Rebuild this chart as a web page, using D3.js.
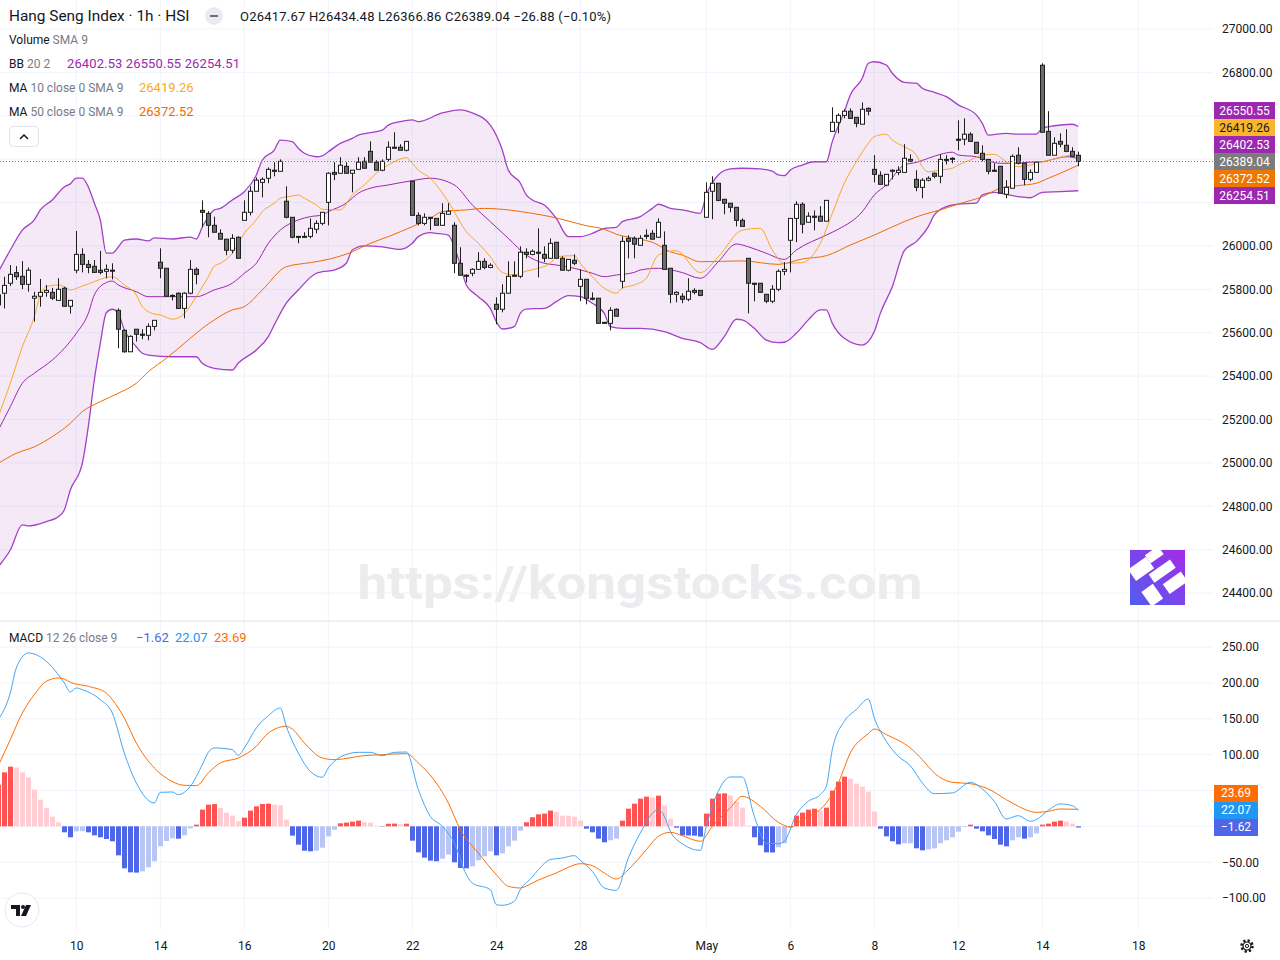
<!DOCTYPE html>
<html>
<head>
<meta charset="utf-8">
<script src="https://cdn.jsdelivr.net/npm/d3@7"></script>
<style>
  body { margin: 0; background: #fff; }
  svg { display: block; font-family: Roboto, "Noto Sans", sans-serif; }
</style>
</head>
<body>
<svg id="chart" width="1280" height="960"></svg>
<script>
// ---- data (bar index -1 is the clipped bar at the left edge) ----
const firstBar = -1;

// [open, high, low, close] per hourly bar
const ohlc = [
  [25774,25789,25705,25728],[25782,25858,25712,25818],[25828,25912,25815,25869],[25877,25907,25843,25858],
  [25860,25930,25801,25823],[25823,25901,25789,25888],[25759,25789,25651,25768],[25768,25848,25720,25786],
  [25786,25820,25766,25795],[25786,25807,25751,25759],[25749,25851,25749,25800],[25805,25812,25720,25722],
  [25722,25749,25688,25749],[25888,26069,25874,25961],[25961,25989,25878,25915],[25915,25935,25874,25901],
  [25906,25935,25878,25878],[25888,25977,25869,25878],[25883,25915,25851,25892],[25888,25920,25846,25886],
  [25703,25712,25528,25616],[25611,25616,25508,25512],[25512,25588,25512,25583],[25616,25616,25559,25593],
  [25593,25616,25570,25588],[25588,25643,25565,25629],[25629,25657,25611,25657],[25925,25989,25851,25897],
  [25897,25897,25768,25768],[25772,25777,25749,25768],[25782,25786,25712,25712],[25712,25786,25666,25782],
  [25782,25935,25777,25892],[25892,25901,25823,25869],[26164,26210,26086,26155],[26150,26160,26040,26095],
  [26095,26135,26063,26063],[26058,26077,26031,26031],[26031,26031,25957,25980],[25980,26054,25966,26035],
  [26040,26044,25943,25943],[26118,26210,26118,26155],[26155,26275,26141,26252],[26252,26316,26252,26303],
  [26293,26316,26224,26307],[26312,26362,26289,26353],[26349,26386,26321,26344],[26344,26399,26344,26390],
  [26206,26275,26127,26132],[26132,26132,26035,26040],[26044,26044,26012,26040],[26040,26063,26040,26044],
  [26044,26127,26035,26081],[26077,26118,26058,26104],[26104,26155,26095,26155],[26201,26339,26095,26335],
  [26339,26386,26303,26330],[26335,26409,26335,26372],[26367,26386,26335,26335],[26335,26349,26247,26349],
  [26353,26409,26353,26386],[26390,26409,26358,26358],[26436,26482,26386,26386],[26386,26395,26349,26349],
  [26349,26399,26344,26390],[26399,26482,26390,26455],[26455,26524,26450,26450],[26455,26469,26441,26441],
  [26441,26482,26436,26482],[26298,26298,26141,26141],[26141,26155,26095,26104],[26104,26150,26095,26132],
  [26132,26132,26073,26127],[26127,26127,26095,26095],[26095,26197,26095,26150],[26146,26197,26146,26160],
  [26095,26109,25874,25920],[25920,25994,25865,25865],[25865,25869,25832,25860],[25874,25897,25860,25892],
  [25892,25971,25892,25929],[25929,25943,25892,25901],[25901,25920,25897,25911],[25731,25763,25639,25708],
  [25708,25823,25694,25782],[25782,25929,25782,25860],[25865,25929,25860,25860],[25860,25998,25851,25971],
  [25971,25989,25943,25961],[25961,25984,25957,25975],[25971,26081,25855,25966],[25961,25998,25925,25943],
  [25943,26035,25943,26012],[26017,26017,25943,25943],[25943,25952,25888,25888],[25888,25938,25883,25938],
  [25934,25961,25911,25920],[25814,25892,25745,25846],[25846,25846,25731,25759],[25759,25786,25749,25754],
  [25759,25759,25643,25643],[25648,25648,25643,25643],[25643,25717,25611,25703],[25708,25712,25676,25676],
  [25837,26044,25805,26021],[26035,26049,25943,26021],[26035,26044,25943,26008],[26003,26049,26003,26035],
  [26049,26077,26031,26044],[26058,26073,26031,26031],[26040,26127,26040,26109],[26003,26067,25892,25892],
  [25897,25897,25736,25777],[25777,25791,25740,25786],[25768,25782,25736,25754],[25754,25851,25745,25791],
  [25795,25805,25777,25786],[25795,25795,25768,25772],[26132,26293,26132,26247],[26252,26321,26123,26289],
  [26289,26289,26206,26210],[26215,26215,26146,26197],[26197,26197,26155,26178],[26178,26178,26090,26118],
  [26118,26127,26090,26090],[25943,25943,25689,25828],[25828,25828,25745,25823],[25828,25828,25786,25786],
  [25777,25777,25736,25745],[25745,25819,25736,25800],[25800,25892,25791,25883],[25883,25925,25865,25892],
  [26026,26127,25878,26127],[26127,26206,26017,26192],[26192,26201,26058,26100],[26109,26155,26109,26137],
  [26137,26164,26072,26132],[26137,26183,26114,26114],[26114,26210,26114,26210],[26528,26639,26528,26570],
  [26570,26611,26519,26602],[26602,26630,26588,26621],[26621,26634,26588,26588],[26593,26593,26547,26565],
  [26561,26662,26561,26630],[26634,26639,26602,26621],[26353,26419,26293,26330],[26326,26344,26284,26284],
  [26280,26330,26275,26330],[26344,26353,26307,26349],[26339,26367,26326,26349],[26339,26469,26339,26404],
  [26399,26422,26386,26390],[26307,26349,26252,26270],[26270,26312,26220,26303],[26303,26321,26298,26312],
  [26335,26339,26312,26321],[26321,26422,26289,26399],[26399,26418,26376,26395],[26404,26409,26381,26399],
  [26492,26579,26441,26487],[26492,26588,26464,26515],[26515,26524,26482,26482],[26478,26478,26427,26427],
  [26427,26464,26390,26399],[26399,26399,26330,26344],[26349,26381,26344,26344],[26367,26367,26243,26243],
  [26238,26303,26220,26270],[26266,26422,26266,26413],[26418,26455,26376,26381],[26381,26381,26280,26307],
  [26307,26353,26298,26339],[26339,26386,26339,26386],[26833,26842,26524,26524],[26528,26621,26418,26418],
  [26418,26501,26418,26473],[26482,26519,26455,26469],[26464,26538,26432,26436],[26436,26455,26409,26413],
  [26417.67,26434.48,26366.86,26389.04]
];

// overlay lines as [bar index, value]
const bbUpper = [[-1,25880],[1,25981],[3,26073],[5,26120],[6,26166],[8,26212],[10,26272],[11,26286],[12,26313],[13,26313],
  [14,26272],[15,26198],[16,26120],[17,25967],[18,25967],[19,25995],[20,26027],[22,26032],[24,26023],[25,26037],[28,26032],
  [31,26041],[32,26032],[33,26087],[35,26166],[36,26173],[38,26212],[40,26250],[42,26327],[43,26396],[45,26442],[46,26488],
  [48,26481],[49,26450],[50,26427],[52,26411],[53,26415],[54,26434],[56,26473],[58,26496],[59,26511],[61,26522],[63,26534],
  [64,26557],[66,26573],[68,26581],[69,26573],[73,26613],[76,26627],[78,26613],[81,26557],[83,26442],[84,26350],[86,26290],
  [87,26235],[88,26212],[90,26189],[92,26127],[94,26043],[96,26043],[98,26058],[100,26081],[102,26086],[103,26112],[106,26135],
  [108,26173],[109,26192],[111,26173],[113,26166],[116,26150],[117,26235],[119,26327],[121,26355],[123,26358],[126,26355],
  [128,26345],[129,26327],[130,26324],[131,26350],[133,26373],[135,26388],[137,26388],[138,26481],[140,26619],[141,26696],
  [143,26773],[144,26842],[145,26849],[147,26834],[148,26796],[150,26754],[152,26750],[153,26727],[155,26708],[157,26688],
  [159,26650],[162,26604],[163,26565],[164,26511],[167,26519],[169,26515],[172,26515],[173,26542],[175,26554],[178,26561],
  [179,26550.55]];
const bbBasis = [[-1,25151],[1,25259],[3,25367],[5,25413],[8,25474],[10,25528],[12,25597],[14,25689],[15,25774],[17,25831],
  [18,25838],[19,25820],[22,25789],[24,25766],[26,25766],[29,25766],[32,25766],[35,25797],[38,25828],[40,25874],[42,25920],
  [44,26012],[46,26073],[49,26120],[51,26135],[53,26143],[54,26158],[57,26197],[59,26243],[61,26266],[64,26281],[68,26301],
  [71,26312],[75,26281],[78,26189],[81,26112],[84,26035],[87,25958],[90,25920],[92,25912],[95,25897],[98,25874],[100,25858],
  [102,25866],[105,25878],[106,25889],[109,25897],[113,25877],[116,25851],[119,25927],[122,26009],[124,25996],[127,25966],
  [130,25938],[132,25981],[137,26050],[139,26077],[143,26158],[145,26235],[147,26281],[150,26373],[152,26385],[154,26404],
  [156,26422],[158,26432],[159,26419],[162,26411],[164,26392],[166,26381],[168,26381],[171,26386],[173,26388],[175,26401],
  [177,26411],[179,26402.53]];
const bbLower = [[-1,24521],[1,24598],[3,24714],[4,24709],[7,24729],[9,24752],[10,24783],[11,24875],[13,24998],[14,25167],
  [15,25382],[16,25551],[17,25692],[18,25708],[19,25689],[20,25612],[22,25535],[23,25505],[24,25497],[28,25489],[32,25489],
  [33,25459],[35,25436],[38,25428],[39,25460],[42,25520],[44,25582],[45,25636],[47,25736],[49,25797],[52,25874],[53,25881],
  [55,25889],[57,25920],[58,25981],[60,26000],[63,25996],[66,25984],[68,26012],[69,26043],[71,26061],[72,26058],[74,26050],
  [75,25996],[76,25912],[77,25820],[79,25766],[81,25712],[82,25651],[83,25617],[85,25628],[86,25689],[87,25709],[90,25712],
  [92,25743],[94,25771],[96,25766],[98,25736],[100,25689],[101,25628],[103,25620],[106,25620],[110,25605],[113,25574],
  [116,25554],[118,25523],[120,25582],[122,25662],[123,25659],[125,25620],[127,25566],[129,25554],[130,25556],[132,25597],
  [134,25659],[136,25705],[137,25705],[138,25643],[140,25574],[143,25543],[145,25605],[146,25689],[148,25812],[150,25978],
  [152,26020],[154,26089],[155,26143],[157,26181],[159,26193],[162,26197],[163,26235],[165,26247],[167,26238],[169,26227],
  [171,26222],[173,26247],[176,26250],[179,26254.51]];
const ma10 = [[-1,25213],[1,25367],[3,25535],[5,25674],[6,25774],[7,25812],[9,25820],[10,25812],[11,25797],[13,25815],
  [14,25825],[16,25846],[18,25858],[20,25820],[22,25774],[23,25720],[25,25686],[26,25682],[28,25662],[30,25689],[32,25766],
  [34,25858],[35,25907],[36,25920],[38,25966],[40,26058],[42,26120],[43,26158],[45,26197],[46,26220],[48,26230],[49,26235],
  [50,26220],[52,26189],[53,26169],[56,26166],[58,26235],[60,26281],[62,26335],[64,26373],[65,26388],[67,26407],[68,26381],
  [69,26350],[71,26312],[72,26281],[74,26204],[77,26066],[79,26012],[81,25950],[83,25878],[85,25866],[87,25884],[89,25897],
  [91,25920],[92,25950],[95,25955],[96,25920],[98,25858],[100,25805],[102,25782],[103,25805],[105,25820],[107,25851],
  [109,25958],[112,25978],[116,25877],[119,25950],[123,26073],[126,26081],[128,25981],[130,25920],[133,25923],[136,26012],
  [138,26150],[140,26289],[142,26388],[144,26473],[145,26504],[147,26515],[148,26488],[150,26457],[152,26419],[153,26365],
  [154,26342],[156,26350],[158,26358],[159,26373],[161,26396],[163,26419],[165,26422],[167,26388],[169,26365],[171,26373],
  [173,26388],[175,26401],[177,26415],[178,26419],[179,26419.26]];
const ma50 = [[-1,24998],[2,25044],[5,25074],[8,25121],[11,25182],[13,25236],[16,25282],[19,25321],[22,25367],[24,25420],
  [27,25482],[30,25551],[33,25620],[35,25659],[38,25705],[40,25720],[43,25797],[47,25904],[51,25923],[54,25938],[58,25973],
  [61,26012],[64,26043],[68,26089],[71,26127],[73,26158],[77,26166],[80,26173],[84,26166],[88,26150],[91,26135],[94,26115],
  [97,26093],[100,26077],[102,26054],[106,26031],[108,26017],[111,25973],[113,25958],[116,25927],[123,25931],[129,25915],
  [133,25940],[137,25955],[141,26004],[145,26050],[150,26112],[153,26143],[156,26166],[159,26193],[163,26227],[166,26266],
  [169,26278],[172,26289],[174,26312],[176,26335],[179,26372.52]];

// MACD histogram, one value per bar from firstBar
const macdHist = [58,
  75.3,83.2,82,75.3,68.4,51.2,37.2,25.6,13.5,5.6,
  -8.4,-15.3,-7,-6.8,-8.4,-12.6,-15.3,-17.7,-20.9,-40.5,
  -58.6,-64.2,-64.6,-62.8,-57.2,-48.8,-27.9,-20.5,-16.7,-17.3,
  -12.6,-2.8,2.3,23.3,30.2,31,25.6,19.1,14.9,7,
  12.1,21.9,27.9,31.2,31.6,30.2,29.3,9.3,-13,-25.6,
  -34,-34.9,-34,-29.8,-14,-4.7,4.2,5.1,6.5,7.9,
  5.6,5.1,0.9,-0.5,3.6,3.8,2.8,3.7,-20,-36.3,
  -43.7,-47.9,-48.8,-45.1,-39.5,-50.2,-58.1,-58.6,-55.8,-47.4,
  -41.9,-34.9,-40.5,-37.7,-27.9,-20,-6,5.6,12.6,16.7,
  17.7,21.9,20,14.9,14.7,13.5,7.9,-3.3,-8.4,-17.2,
  -22.3,-19.5,-17.2,7.9,24.6,31.6,38.6,41.4,40,42.8,
  28.8,10.7,-1.9,-12.6,-12.8,-13,-14.4,17.7,38.6,45.6,
  46,42.8,34.4,26,0.9,-15.3,-26.5,-36.3,-36.5,-29.3,
  -23.7,-2.3,14.9,19.1,23.3,24.6,21.9,26,49.8,62.3,
  69.3,66.5,59.5,55.3,48.4,20.5,-3.3,-14,-20.9,-25.1,
  -23.7,-23.7,-30.7,-33.5,-32.1,-30.7,-23.7,-19.5,-15.3,-7.4,
  -0.9,2.3,-3.3,-7,-12.6,-17.7,-25.6,-27.9,-19.5,-15.3,
  -17.2,-15.3,-9.8,2.3,3.7,6.5,7.9,6.5,3.7,-1.62];
const macdLine = [[-1,148.8],[1,186],[2,220.9],[4,241.8],[7,230.2],[9,211.6],[10,200],[11,187.4],[12,193],[13,190.7],
  [16,176.7],[18,158.1],[20,102.3],[22,60.5],[25,32.6],[26,47.4],[28,47.9],[29,44.2],[31,55.8],[33,86],[34,103.2],[35,109.3],
  [38,107],[39,99],[40,109.3],[42,137.2],[44,154.4],[46,165.1],[47,139.5],[49,102.3],[51,76.7],[53,68.4],[54,81.4],[56,96.7],
  [59,103.2],[61,103.2],[63,98.6],[65,103.2],[67,103.7],[69,51.2],[71,14],[73,0],[75,-23.3],[77,-67.4],[78,-79.1],[81,-88.4],
  [82,-109.3],[83,-110.2],[85,-104.6],[86,-88.4],[88,-70.7],[89,-60.5],[91,-46.5],[93,-44.2],[95,-40.9],[96,-47.4],[98,-62.8],
  [100,-86],[102,-89.3],[104,-44.2],[106,-9.3],[109,23.3],[110,14],[111,-7],[113,-24.2],[116,-33.5],[117,0],[119,48.8],
  [121,68.8],[123,68.8],[125,14],[127,-23.3],[129,-24.2],[130,-20.9],[132,16.3],[134,34.9],[136,44.2],[137,55.8],[138,107],
  [140,146.5],[142,162.8],[144,177.6],[145,151.1],[147,118.6],[149,97.7],[151,84.6],[153,60.5],[155,45.6],[158,46.5],
  [161,61.4],[163,52.1],[165,34.9],[167,10.2],[169,14.9],[171,7],[172,9.3],[174,22.3],[176,31.2],[178,28.8],[179,22.07]];
const signalLine = [[-1,84.6],[1,120.9],[3,158.1],[5,183.7],[7,202.3],[9,206.9],[10,205.5],[11,200.9],[14,195.3],[17,186],
  [18,176.7],[20,151.1],[22,116.3],[25,81.4],[27,67.4],[30,57.2],[32,56.7],[34,74.4],[36,88.4],[39,95.3],[42,111.6],[44,130.2],
  [47,139.5],[48,135.8],[50,116.3],[53,95.3],[55,93],[60,98.6],[63,100],[67,101.4],[69,88.4],[72,60.5],[74,32.6],[76,-4.7],
  [79,-37.2],[82,-67.4],[84,-83.7],[86,-86],[88,-79.1],[89,-75],[92,-65.1],[94,-57.2],[96,-52.1],[98,-54.9],[100,-65.1],
  [102,-73.5],[104,-60.5],[107,-32.6],[109,-14],[111,-8.4],[113,-13],[116,-20.9],[118,0],[121,25.6],[123,41.9],[126,27.9],
  [129,5.6],[131,-0.9],[133,9.3],[137,32.6],[139,60.5],[141,102.3],[144,129.3],[145,135.8],[147,127.9],[151,109.3],[153,93],
  [155,74.4],[158,61.4],[161,59.5],[164,52.1],[167,37.2],[169,27.9],[172,19.5],[174,20.9],[176,24.2],[179,23.69]];

// axis ticks
const priceTicks = d3.range(24400, 27001, 200);
const macdTicks = d3.range(-100, 251, 50);
const dayTicks = [[12,"10"],[26,"14"],[40,"16"],[54,"20"],[68,"22"],[82,"24"],[96,"28"],[117,"May"],[131,"6"],[145,"8"],[159,"12"],[173,"14"],[189,"18"]];

// ---- drawing ----
const svg = d3.select('#chart');
const W = 1280, plotRight = 1213;
const ink = '#131722', muted = '#787b86', grid = '#f0f3fa';

const x = d3.scaleLinear().domain([0, 179]).range([4.3, 1078.3]);
const y = d3.scaleLinear().domain([24400, 27000]).range([593, 29]);
const ym = d3.scaleLinear().domain([-100, 250]).range([898, 647.1]);

svg.append('rect').attr('width', W).attr('height', 960).attr('fill', '#fff');

const defs = svg.append('defs');
defs.append('clipPath').attr('id', 'clipMain').append('rect').attr('x', 0).attr('y', 0).attr('width', plotRight).attr('height', 620);
defs.append('clipPath').attr('id', 'clipMacd').append('rect').attr('x', 0).attr('y', 622).attr('width', plotRight).attr('height', 310);

// grid
const gridG = svg.append('g');
dayTicks.forEach(d => {
  gridG.append('line').attr('x1', x(d[0])).attr('x2', x(d[0])).attr('y1', 0).attr('y2', 930)
    .attr('stroke', grid).attr('stroke-width', 1);
});
priceTicks.forEach(t => {
  gridG.append('line').attr('x1', 0).attr('x2', plotRight).attr('y1', y(t)).attr('y2', y(t)).attr('stroke', grid);
});
macdTicks.forEach(t => {
  gridG.append('line').attr('x1', 0).attr('x2', plotRight).attr('y1', ym(t)).attr('y2', ym(t)).attr('stroke', grid);
});
svg.append('line').attr('x1', 0).attr('x2', W).attr('y1', 621).attr('y2', 621).attr('stroke', '#e0e3eb');

// watermark + logo
svg.append('text').attr('x', 640).attr('y', 599).attr('text-anchor', 'middle')
  .attr('font-size', 46).attr('font-weight', 700).attr('fill', '#ececef')
  .attr('textLength', 565).attr('lengthAdjust', 'spacingAndGlyphs')
  .text('https://kongstocks.com');
const lg = defs.append('linearGradient').attr('id', 'logoGrad').attr('x1', 0).attr('y1', 1).attr('x2', 1).attr('y2', 0);
lg.append('stop').attr('offset', 0).attr('stop-color', '#4f5ef0');
lg.append('stop').attr('offset', 1).attr('stop-color', '#a52be8');
const logo = svg.append('g').attr('transform', 'translate(1130,550)');
logo.append('rect').attr('width', 55).attr('height', 55).attr('fill', 'url(#logoGrad)');
[[8,4,22,14],[30,2,16,10],[22,20,26,10],[6,30,14,18],[28,36,22,12]].forEach(r => {
  logo.append('rect').attr('x', r[0]).attr('y', r[1]).attr('width', r[2]).attr('height', r[3])
    .attr('fill', '#fff').attr('transform', 'rotate(-35 27.5 27.5)');
});

// ---- main pane ----
const main = svg.append('g').attr('clip-path', 'url(#clipMain)');
const line = d3.line().x(d => x(d[0])).y(d => y(d[1])).curve(d3.curveMonotoneX);
const bandPath = line(bbUpper) + 'L' + line(bbLower.slice().reverse()).slice(1) + 'Z';
main.append('path').attr('d', bandPath).attr('fill', '#9c27b0').attr('fill-opacity', 0.1);
main.append('path').attr('d', line(bbUpper)).attr('fill', 'none').attr('stroke', '#a240c8').attr('stroke-width', 1.3);
main.append('path').attr('d', line(bbLower)).attr('fill', 'none').attr('stroke', '#a240c8').attr('stroke-width', 1.3);
main.append('path').attr('d', line(bbBasis)).attr('fill', 'none').attr('stroke', '#9c27b0').attr('stroke-width', 1);
main.append('path').attr('d', line(ma50)).attr('fill', 'none').attr('stroke', '#ef6c00').attr('stroke-width', 1);
main.append('path').attr('d', line(ma10)).attr('fill', 'none').attr('stroke', '#f9a825').attr('stroke-width', 1);

const bars = ohlc.map((d, k) => ({ i: firstBar + k, o: d[0], h: d[1], l: d[2], c: d[3] }));
const candle = main.append('g').selectAll('g').data(bars).join('g');
candle.append('line')
  .attr('x1', d => Math.round(x(d.i)) + 0.5).attr('x2', d => Math.round(x(d.i)) + 0.5)
  .attr('y1', d => y(d.h)).attr('y2', d => y(d.l))
  .attr('stroke', '#1e1e1e').attr('stroke-width', 1);
candle.append('rect')
  .attr('x', d => Math.round(x(d.i)) - 1.5).attr('width', 4)
  .attr('y', d => y(Math.max(d.o, d.c)))
  .attr('height', d => Math.max(1, Math.abs(y(d.o) - y(d.c))))
  .attr('fill', d => d.c >= d.o ? '#ffffff' : '#6b6b6b')
  .attr('stroke', '#1e1e1e').attr('stroke-width', 1);

const last = bars[bars.length - 1];
svg.append('line').attr('x1', 0).attr('x2', plotRight).attr('y1', y(last.c)).attr('y2', y(last.c))
  .attr('stroke', '#787b86').attr('stroke-dasharray', '1,2');

// ---- MACD pane ----
const macd = svg.append('g').attr('clip-path', 'url(#clipMacd)');
const histBars = macdHist.map((v, k) => ({ i: firstBar + k, v, prev: k > 0 ? macdHist[k - 1] : -Infinity }));
const histColor = d => d.v >= 0 ? (d.v > d.prev ? '#ff5252' : '#ffcdd2') : (d.v < d.prev ? '#4e66e8' : '#b9c5f2');
macd.append('g').selectAll('rect').data(histBars).join('rect')
  .attr('x', d => Math.round(x(d.i)) - 2).attr('width', 5)
  .attr('y', d => Math.min(ym(0), ym(d.v)))
  .attr('height', d => Math.abs(ym(d.v) - ym(0)))
  .attr('fill', histColor);
const mline = d3.line().x(d => x(d[0])).y(d => ym(d[1])).curve(d3.curveMonotoneX);
macd.append('path').attr('d', mline(signalLine)).attr('fill', 'none').attr('stroke', '#ff6d00').attr('stroke-width', 1);
macd.append('path').attr('d', mline(macdLine)).attr('fill', 'none').attr('stroke', '#42a5f5').attr('stroke-width', 1);

// ---- price labels (stacked like the platform does) ----
function stack(items, scale, h) {
  items.forEach(d => d.y = scale(d.v));
  items.sort((a, b) => a.y - b.y);
  const a = items.findIndex(d => d.anchor);
  for (let k = a - 1; k >= 0; k--) items[k].y = Math.min(items[k].y, items[k + 1].y - h);
  for (let k = a + 1; k < items.length; k++) items[k].y = Math.max(items[k].y, items[k - 1].y + h);
  return items;
}
const lastOf = s => s[s.length - 1][1];
const mainLabels = stack([
  { v: lastOf(bbUpper), bg: '#9c27b0', fg: '#fff' },
  { v: lastOf(ma10), bg: '#f9b52b', fg: '#131722' },
  { v: lastOf(bbBasis), bg: '#9c27b0', fg: '#fff' },
  { v: last.c, bg: '#7b7b7b', fg: '#fff', anchor: true },
  { v: lastOf(ma50), bg: '#ef7700', fg: '#fff' },
  { v: lastOf(bbLower), bg: '#9c27b0', fg: '#fff' }
], y, 17);
const macdLabels = stack([
  { v: lastOf(signalLine), bg: '#ff6d00', fg: '#fff' },
  { v: lastOf(macdLine), bg: '#2196f3', fg: '#fff' },
  { v: macdHist[macdHist.length - 1], bg: '#4e66e8', fg: '#fff', anchor: true }
], ym, 17);

// ---- axes ----
const fmt = d3.format('.2f');
const near = (v, scale, labels) => labels.some(l => Math.abs(scale(v) - l.y) < 15);
function rightAxis(scale, ticks, labels) {
  const g = svg.append('g').attr('transform', 'translate(1222,0)')
    .call(d3.axisRight(scale).tickValues(ticks.filter(t => !near(t, scale, labels))).tickFormat(fmt).tickSize(0).tickPadding(0));
  g.select('.domain').remove();
  g.selectAll('text').attr('font-size', 12).attr('font-family', 'Roboto, "Noto Sans", sans-serif').attr('fill', ink);
}
rightAxis(y, priceTicks, mainLabels);
rightAxis(ym, macdTicks, macdLabels);

const xAxis = svg.append('g').attr('transform', 'translate(0,941)')
  .call(d3.axisBottom(x).tickValues(dayTicks.map(d => d[0])).tickFormat((d, k) => dayTicks[k][1]).tickSize(0).tickPadding(0));
xAxis.select('.domain').remove();
xAxis.selectAll('text').attr('font-size', 12).attr('font-family', 'Roboto, "Noto Sans", sans-serif').attr('fill', ink);

function drawLabels(items, w) {
  const g = svg.append('g').selectAll('g').data(items).join('g').attr('transform', d => `translate(1214,${d.y - 8.5})`);
  g.append('rect').attr('width', w).attr('height', 17).attr('fill', d => d.bg);
  g.append('text').attr('x', w / 2).attr('y', 12.5).attr('text-anchor', 'middle')
    .attr('font-size', 12).attr('fill', d => d.fg).text(d => fmt(d.v));
}
drawLabels(mainLabels, 61);
drawLabels(macdLabels, 44);

// ---- legend text ----
function legendRow(xPos, yPos, parts, size) {
  const t = svg.append('text').attr('x', xPos).attr('y', yPos).attr('font-size', size || 13).attr('fill', ink);
  parts.forEach(p => t.append('tspan').attr('fill', p[1]).text(p[0]));
  return t;
}
legendRow(9, 21, [['Hang Seng Index · 1h · HSI', ink]], 15.4);
svg.append('circle').attr('cx', 214).attr('cy', 16).attr('r', 9).attr('fill', '#e9ebf0');
svg.append('line').attr('x1', 210).attr('x2', 218).attr('y1', 16).attr('y2', 16).attr('stroke', '#6a6d78').attr('stroke-width', 2);
legendRow(240, 21, [['O26417.67 H26434.48 L26366.86 C26389.04 −26.88 (−0.10%)', ink]])
  .attr('textLength', 371).attr('lengthAdjust', 'spacing');
legendRow(9, 44, [['Volume', ink], [' SMA 9', muted]], 12);
legendRow(9, 68, [['BB', ink], [' 20 2', muted]], 12);
legendRow(67, 68, [['26402.53 26550.55 26254.51', '#9c27b0']])
  .attr('textLength', 173).attr('lengthAdjust', 'spacing');
legendRow(9, 92, [['MA', ink], [' 10 close 0 SMA 9', muted]], 12);
legendRow(139, 92, [['26419.26', '#f9a825']]);
legendRow(9, 116, [['MA', ink], [' 50 close 0 SMA 9', muted]], 12);
legendRow(139, 116, [['26372.52', '#ef6c00']]);
svg.append('rect').attr('x', 9.5).attr('y', 126.5).attr('width', 29).attr('height', 20).attr('rx', 4)
  .attr('fill', '#fff').attr('stroke', '#e0e3eb');
svg.append('path').attr('d', 'M20,139 L24,135 L28,139').attr('fill', 'none').attr('stroke', ink).attr('stroke-width', 1.5);

legendRow(9, 642, [['MACD', ink], [' 12 26 close 9', muted]], 12);
legendRow(136, 642, [['−1.62', '#4e66e8']]);
legendRow(175, 642, [['22.07', '#2196f3']]);
legendRow(214, 642, [['23.69', '#ff6d00']]);

// ---- corner icons ----
const tv = svg.append('g').attr('transform', 'translate(22,910)');
tv.append('circle').attr('r', 17).attr('fill', '#fff').attr('stroke', '#e6e7eb');
tv.append('path').attr('d', 'M-11,-5 H-2 V6 H-6 V-1 H-11 Z').attr('fill', ink);
tv.append('circle').attr('cx', 1).attr('cy', -3).attr('r', 2).attr('fill', ink);
tv.append('path').attr('d', 'M4,-5 H9 L4,6 H-1 Z').attr('fill', ink);

const gear = svg.append('g').attr('transform', 'translate(1247,946)');
gear.append('circle').attr('r', 5.5).attr('fill', 'none').attr('stroke', ink).attr('stroke-width', 2.5).attr('stroke-dasharray', '2.2,2.1');
gear.append('circle').attr('r', 4).attr('fill', '#fff').attr('stroke', ink).attr('stroke-width', 1.2);
gear.append('circle').attr('r', 1.6).attr('fill', 'none').attr('stroke', ink).attr('stroke-width', 1);
</script>
</body>
</html>
